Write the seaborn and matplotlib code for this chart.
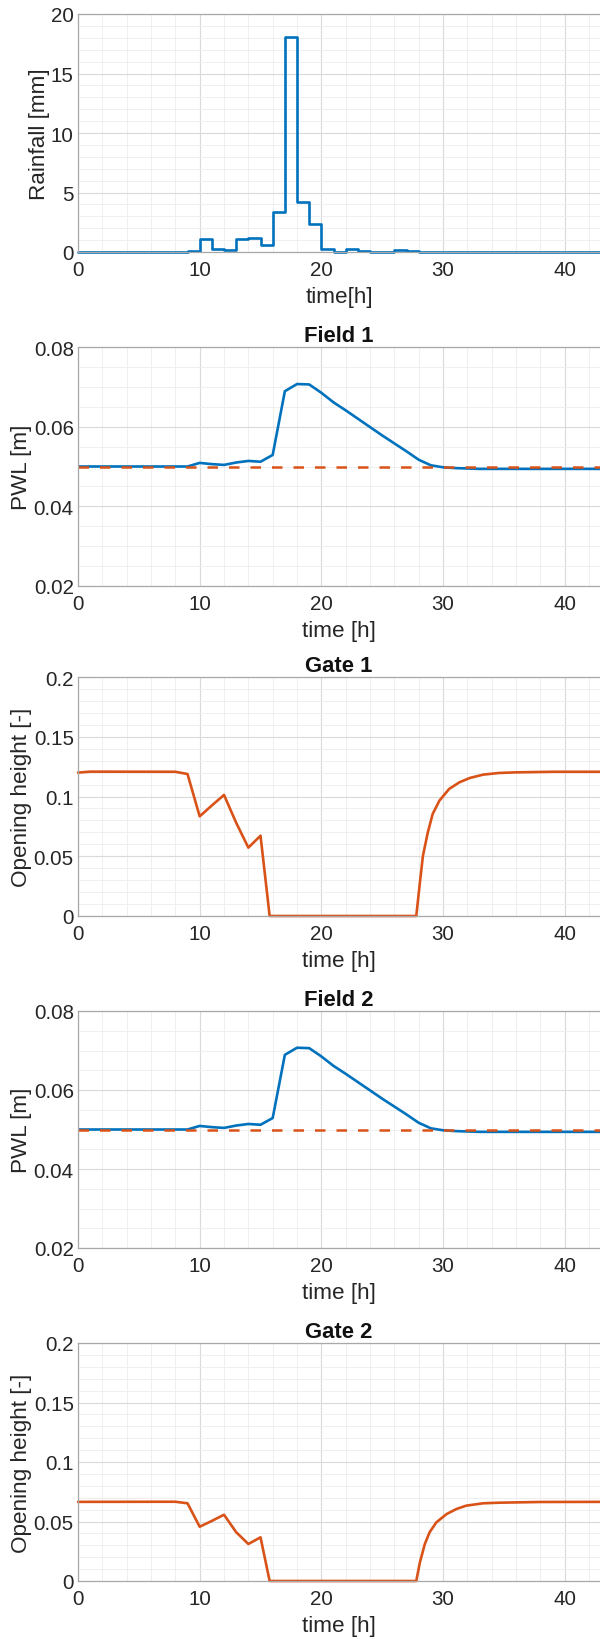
import matplotlib
matplotlib.use('Agg')
import matplotlib.pyplot as plt
from matplotlib.ticker import MultipleLocator
import seaborn as sns

# Rainfall, hourly steps
rain_hour = list(range(44))
rain_mm = [0, 0, 0, 0, 0, 0, 0, 0, 0, 0.10,
           1.12, 0.25, 0.14, 1.07, 1.20, 0.56, 3.40, 18.10, 4.20, 2.35,
           0.22, 0.00, 0.25, 0.05, 0.02, 0.02, 0.17, 0.05, 0.04, 0.03,
           0.02, 0.02, 0.02, 0.02, 0.02, 0.02, 0.02, 0.02, 0.02, 0.02,
           0.02, 0.02, 0.02, 0.02]

# Ponded water level (both fields show the same response)
pwl_time = [0, 9, 10, 11, 12, 13, 14, 15, 16, 17, 18, 19, 20, 21, 22, 23, 24,
            25, 26, 27, 28, 29, 30, 31, 32, 33, 36, 40, 43]
pwl_field1 = [0.0500, 0.0500, 0.0509, 0.0506, 0.0504, 0.0510, 0.0514, 0.0512,
              0.0529, 0.0689, 0.0707, 0.0706, 0.0685, 0.0661, 0.0641, 0.0620,
              0.0599, 0.0578, 0.0558, 0.0538, 0.0517, 0.0503, 0.0498, 0.0496,
              0.0495, 0.0494, 0.0494, 0.0494, 0.0494]
pwl_field2 = [0.0500, 0.0500, 0.0509, 0.0506, 0.0504, 0.0510, 0.0514, 0.0512,
              0.0529, 0.0689, 0.0707, 0.0706, 0.0685, 0.0661, 0.0641, 0.0620,
              0.0599, 0.0578, 0.0558, 0.0538, 0.0517, 0.0503, 0.0498, 0.0496,
              0.0495, 0.0494, 0.0494, 0.0494, 0.0494]
pwl_target_time = [0, 43]
pwl_target = [0.05, 0.05]

# Gate opening heights
gate1_time = [0, 1, 8, 9, 10, 11, 12, 13, 14, 15, 15.75, 27.8, 28.1, 28.35,
              28.75, 29.15, 29.7, 30.5, 31.35, 32.2, 33.3, 34.6, 36, 39, 43]
gate1 = [0.1200, 0.1208, 0.1207, 0.1188, 0.0834, 0.0925, 0.1013, 0.0780,
         0.0572, 0.0672, 0.0, 0.0, 0.0282, 0.0505, 0.0700, 0.0854, 0.0965,
         0.1063, 0.1119, 0.1155, 0.1183, 0.1197, 0.1202, 0.1207, 0.1207]
gate2_time = [0, 8, 9, 10, 11, 12, 13, 14, 15, 15.75, 27.8, 28.1, 28.5, 28.9,
              29.45, 30.3, 31.1, 31.9, 33.3, 34.6, 38, 43]
gate2 = [0.0665, 0.0666, 0.0653, 0.0456, 0.0505, 0.0557, 0.0410, 0.0311,
         0.0367, 0.0, 0.0, 0.0157, 0.0310, 0.0410, 0.0493, 0.0563, 0.0605,
         0.0633, 0.0653, 0.0658, 0.0664, 0.0665]

x_ticks = [0, 10, 20, 30, 40]
x_ticklabels = ['0', '10', '20', '30', '40']
rain_yticks = [0, 5, 10, 15, 20]
rain_yticklabels = ['0', '5', '10', '15', '20']
pwl_yticks = [0.02, 0.04, 0.06, 0.08]
pwl_yticklabels = ['0.02', '0.04', '0.06', '0.08']
gate_yticks = [0, 0.05, 0.1, 0.15, 0.2]
gate_yticklabels = ['0', '0.05', '0.1', '0.15', '0.2']

BLUE = '#0072BD'
ORANGE = '#D95319'
TICK_FS = 14.8
LABEL_FS = 16.2

sns.set_theme(style='white')
plt.rcParams['font.family'] = ['Liberation Sans', 'DejaVu Sans']

fig = plt.figure(figsize=(6, 16.4), dpi=100)


def make_axes(top_px, bottom_px):
    return fig.add_axes([78 / 600, 1 - bottom_px / 1640,
                         1 - 78 / 600, (bottom_px - top_px) / 1640])


def style_axes(ax, ylim, yticks, yticklabels, yminor, ylabel, xlabel, title=None):
    ax.set_xlim(0, 42.9)
    ax.set_ylim(*ylim)
    ax.set_xticks(x_ticks)
    ax.set_xticklabels(x_ticklabels)
    ax.set_yticks(yticks)
    ax.set_yticklabels(yticklabels)
    ax.xaxis.set_minor_locator(MultipleLocator(2))
    ax.yaxis.set_minor_locator(MultipleLocator(yminor))
    ax.grid(which='major', color='#dadada', lw=0.8)
    ax.grid(which='minor', color='#ededed', lw=0.6)
    ax.set_axisbelow(True)
    for side in ['left', 'bottom', 'top']:
        ax.spines[side].set_color('#a8a8a8')
        ax.spines[side].set_linewidth(0.9)
    ax.spines['right'].set_visible(False)
    ax.tick_params(which='major', direction='in', length=4, width=0.8,
                   color='#a8a8a8', labelsize=TICK_FS, labelcolor='#262626')
    ax.tick_params(axis='x', which='major', pad=6)
    ax.tick_params(axis='y', which='major', pad=3)
    ax.tick_params(which='minor', length=0)
    ax.set_ylabel(ylabel, fontsize=LABEL_FS, color='#262626', labelpad=1)
    ax.set_xlabel(xlabel, fontsize=LABEL_FS, color='#262626', labelpad=4.5)
    if title:
        ax.set_title(title, fontsize=15.8, fontweight='bold', color='#111111', pad=4)


# Rainfall
ax1 = make_axes(15, 253)
sns.lineplot(x=rain_hour, y=rain_mm, ax=ax1, color=BLUE, lw=1.9,
             drawstyle='steps-post', estimator=None, errorbar=None, clip_on=False)
style_axes(ax1, (0, 20), rain_yticks, rain_yticklabels, 1, 'Rainfall [mm]', 'time[h]')

# Field 1
ax2 = make_axes(348, 587)
sns.lineplot(x=pwl_time, y=pwl_field1, ax=ax2, color=BLUE, lw=1.9,
             estimator=None, errorbar=None)
sns.lineplot(x=pwl_target_time, y=pwl_target, ax=ax2, color=ORANGE, lw=1.8,
             linestyle=(0, (4.2, 4.4)), estimator=None, errorbar=None)
style_axes(ax2, (0.02, 0.08), pwl_yticks, pwl_yticklabels, 0.005,
           'PWL [m]', 'time [h]', 'Field 1')

# Gate 1
ax3 = make_axes(678, 917)
sns.lineplot(x=gate1_time, y=gate1, ax=ax3, color=ORANGE, lw=1.9,
             estimator=None, errorbar=None, clip_on=False)
style_axes(ax3, (0, 0.2), gate_yticks, gate_yticklabels, 0.01,
           'Opening height [-]', 'time [h]', 'Gate 1')

# Field 2
ax4 = make_axes(1012, 1249)
sns.lineplot(x=pwl_time, y=pwl_field2, ax=ax4, color=BLUE, lw=1.9,
             estimator=None, errorbar=None)
sns.lineplot(x=pwl_target_time, y=pwl_target, ax=ax4, color=ORANGE, lw=1.8,
             linestyle=(0, (4.2, 4.4)), estimator=None, errorbar=None)
style_axes(ax4, (0.02, 0.08), pwl_yticks, pwl_yticklabels, 0.005,
           'PWL [m]', 'time [h]', 'Field 2')

# Gate 2
ax5 = make_axes(1344, 1582)
sns.lineplot(x=gate2_time, y=gate2, ax=ax5, color=ORANGE, lw=1.9,
             estimator=None, errorbar=None, clip_on=False)
style_axes(ax5, (0, 0.2), gate_yticks, gate_yticklabels, 0.01,
           'Opening height [-]', 'time [h]', 'Gate 2')

fig.savefig('out.png', dpi=100)
